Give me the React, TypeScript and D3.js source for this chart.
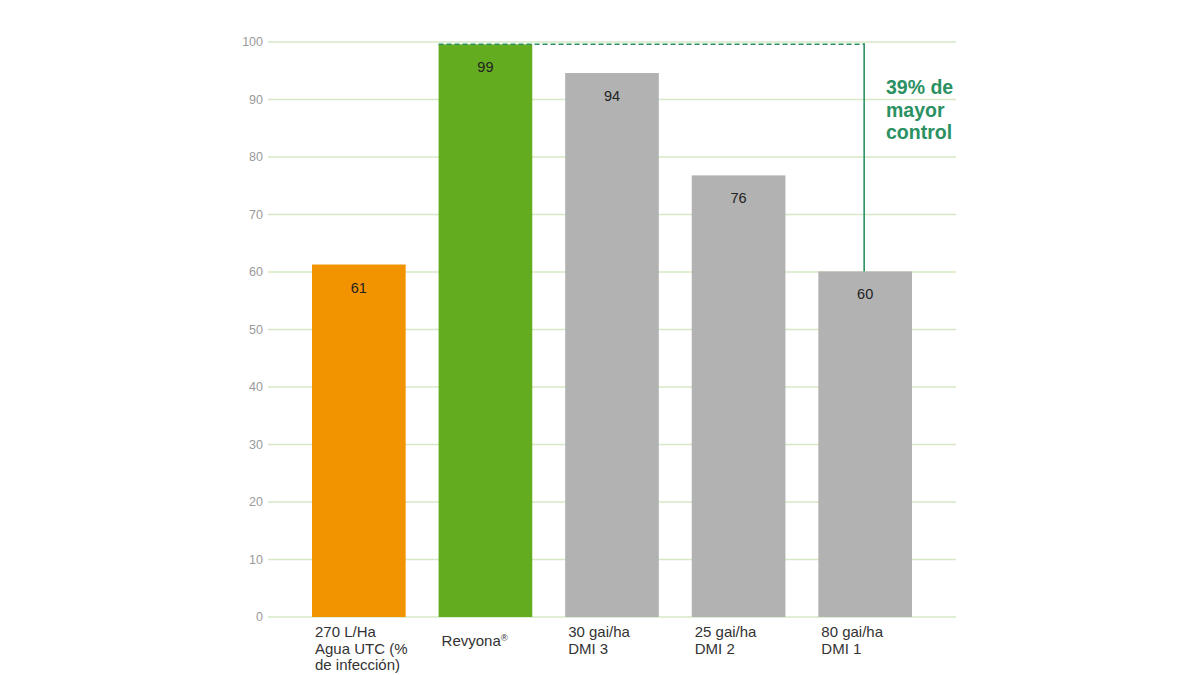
import React from "react";
import * as d3 from "d3";

const categories = ["cat0", "cat1", "cat2", "cat3", "cat4"];
const categoryLines: string[][] = [
  ["270 L/Ha", "Agua UTC (%", "de infección)"],
  ["Revyona®"],
  ["30 gai/ha", "DMI 3"],
  ["25 gai/ha", "DMI 2"],
  ["80 gai/ha", "DMI 1"],
];
const values = [61.3, 99.6, 94.6, 76.8, 60.1];
const valueLabels = ["61", "99", "94", "76", "60"];
const barColors = ["#f29400", "#64ac1f", "#b2b2b2", "#b2b2b2", "#b2b2b2"];
const yTicks = [0, 10, 20, 30, 40, 50, 60, 70, 80, 90, 100];
const annotationLines = ["39% de", "mayor", "control"];

const W = 1200;
const H = 675;

export default function App() {
  const y = d3.scaleLinear().domain([0, 100]).range([617, 42]);
  const x = d3
    .scaleBand<string>()
    .domain(categories)
    .range([312, 912])
    .paddingInner(0.26)
    .paddingOuter(0);
  const bw = x.bandwidth();
  const gridX0 = 268;
  const gridX1 = 956;
  const annColor = "#2b9162";
  const annX = (x(categories[4]) as number) + bw / 2 - 1;
  const dashY = y(values[1]);

  return (
    <svg
      width={W}
      height={H}
      style={{ position: "absolute", left: 0, top: 0, background: "#fff" }}
      fontFamily="Liberation Sans, Arial, sans-serif"
    >
      {yTicks.map((t) => (
        <g key={t}>
          <line
            x1={gridX0}
            x2={gridX1}
            y1={y(t)}
            y2={y(t)}
            stroke="#d6e8c6"
            strokeWidth={1.5}
          />
          <text
            x={263}
            y={y(t)}
            dy="0.35em"
            textAnchor="end"
            fontSize={12.5}
            fill="#9a9a9a"
          >
            {t}
          </text>
        </g>
      ))}
      {categories.map((c, i) => {
        const bx = x(c) as number;
        return (
          <g key={c}>
            <rect
              x={bx}
              y={y(values[i])}
              width={bw}
              height={y(0) - y(values[i])}
              fill={barColors[i]}
            />
            <text
              x={bx + bw / 2}
              y={y(values[i]) + 28}
              textAnchor="middle"
              fontSize={14.5}
              fill="#222"
            >
              {valueLabels[i]}
            </text>
            {categoryLines[i].map((ln, j) => {
              const n = categoryLines[i].length;
              const baseY = n === 1 ? 646 : 637 + j * 16.5;
              if (ln.endsWith("®")) {
                return (
                  <text key={j} x={bx + 3} y={baseY} fontSize={15} fill="#333">
                    {ln.slice(0, -1)}
                    <tspan fontSize={9.5} dy={-5}>
                      ®
                    </tspan>
                  </text>
                );
              }
              return (
                <text key={j} x={bx + 3} y={baseY} fontSize={15} fill="#333">
                  {ln}
                </text>
              );
            })}
          </g>
        );
      })}
      <line
        x1={x(categories[1]) as number}
        x2={annX}
        y1={dashY}
        y2={dashY}
        stroke={annColor}
        strokeWidth={1.6}
        strokeDasharray="5,3"
      />
      <line
        x1={annX}
        x2={annX}
        y1={dashY - 1}
        y2={y(values[4])}
        stroke={annColor}
        strokeWidth={1.6}
      />
      {annotationLines.map((ln, j) => (
        <text
          key={j}
          x={886}
          y={94 + j * 22.5}
          fontSize={19.5}
          fontWeight="bold"
          fill={annColor}
        >
          {ln}
        </text>
      ))}
    </svg>
  );
}
